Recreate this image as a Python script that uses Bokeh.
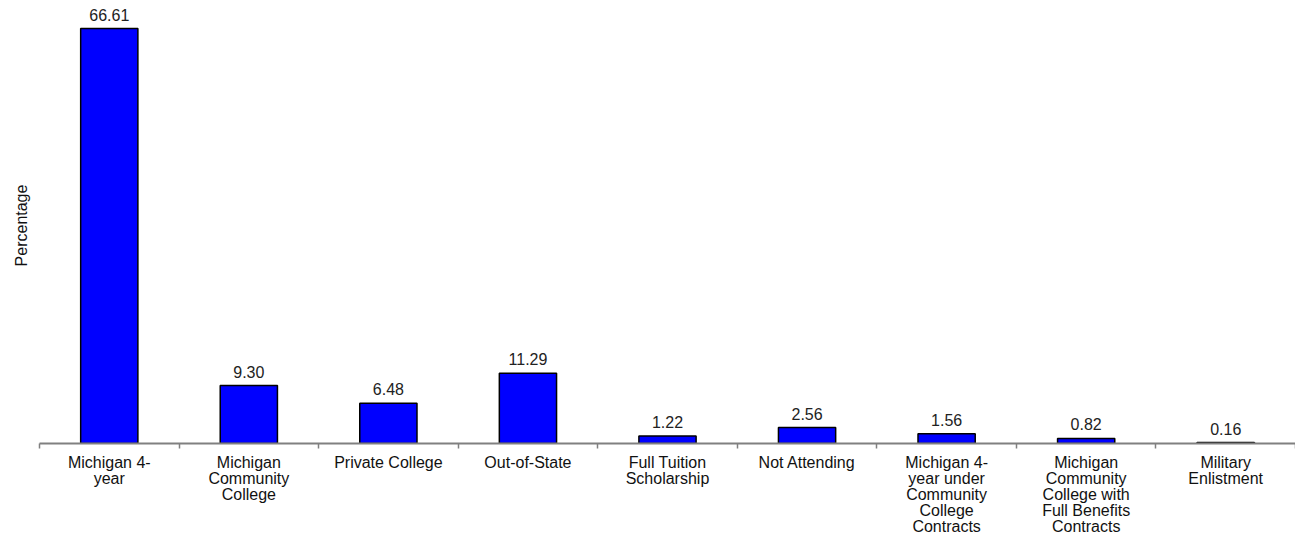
from bokeh.plotting import figure
from bokeh.models import Range1d, FixedTicker, Title, ColumnDataSource
from bokeh.core.properties import value
from bokeh.embed import file_html
from bokeh.resources import INLINE

categories = [
    "Michigan 4-\nyear",
    "Michigan\nCommunity\nCollege",
    "Private College",
    "Out-of-State",
    "Full Tuition\nScholarship",
    "Not Attending",
    "Michigan 4-\nyear under\nCommunity\nCollege\nContracts",
    "Michigan\nCommunity\nCollege with\nFull Benefits\nContracts",
    "Military\nEnlistment",
]
values = [66.61, 9.30, 6.48, 11.29, 1.22, 2.56, 1.56, 0.82, 0.16]
value_labels = ["66.61", "9.30", "6.48", "11.29", "1.22", "2.56", "1.56", "0.82", "0.16"]

FONT = "Liberation Sans"
n = len(categories)
centers = [i + 0.5 for i in range(n)]

src = ColumnDataSource(dict(x=centers, top=values, lab=value_labels))

p = figure(width=1295, height=538, output_backend="svg", toolbar_location=None,
           x_range=Range1d(0, n), y_range=Range1d(0, 70),
           min_border_left=39, min_border_right=0, min_border_top=7, min_border_bottom=92)

p.vbar(x="x", top="top", bottom=0, width=0.41, source=src,
       fill_color="#0000FF", line_color="#000000", line_width=1.5)

p.text(x="x", y="top", text="lab", source=src, text_align="center",
       text_baseline="bottom", y_offset=-8, text_font=value(FONT),
       text_font_size="16px", text_color="#222222")

p.xgrid.visible = False
p.ygrid.visible = False
p.yaxis.visible = False
p.outline_line_color = None

ax = p.xaxis[0]
ax.ticker = FixedTicker(ticks=centers, minor_ticks=list(range(n + 1)))
ax.major_label_overrides = {c: lab for c, lab in zip(centers, categories)}
ax.axis_line_color = "#808080"
ax.axis_line_width = 2
ax.major_tick_line_color = None
ax.major_tick_out = 0
ax.major_tick_in = 0
ax.minor_tick_line_color = "#808080"
ax.minor_tick_line_width = 1.5
ax.minor_tick_out = 5
ax.minor_tick_in = 0
ax.major_label_standoff = 5
ax.major_label_text_font = FONT
ax.major_label_text_font_size = "16px"
ax.major_label_text_line_height = 0.95
ax.major_label_text_color = "#111111"
ax.major_label_text_align = "center"

p.add_layout(Title(text="Percentage", align="center", text_font=FONT,
                   text_font_size="16px", text_font_style="normal",
                   text_color="#111111", standoff=19), "left")

open("out.html", "w").write(file_html(p, INLINE))
